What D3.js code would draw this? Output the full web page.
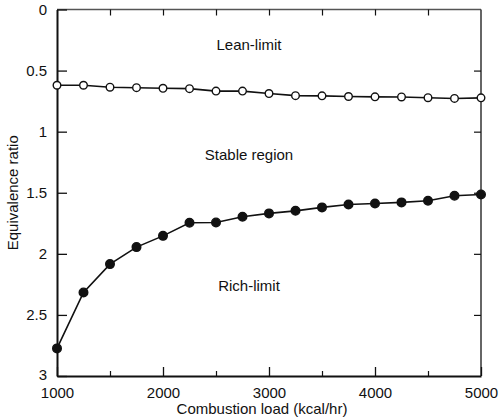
<!DOCTYPE html>
<html>
<head>
<meta charset="utf-8">
<script src="https://cdn.jsdelivr.net/npm/d3@7"></script>
<style>
  html, body { margin: 0; padding: 0; background: #fff; }
  svg { display: block; font-family: Arial, "Liberation Sans", sans-serif; }
</style>
</head>
<body>
<svg id="chart" width="499" height="420"></svg>
<script>
// Combustion load (kcal/hr) at each measured operating point
const loads = [1000, 1250, 1500, 1750, 2000, 2250, 2500, 2750, 3000,
               3250, 3500, 3750, 4000, 4250, 4500, 4750, 5000];
// Lean flammability limit (equivalence ratio)
const leanLimit = [0.62, 0.62, 0.636, 0.64, 0.645, 0.648, 0.668, 0.668, 0.688,
                   0.705, 0.707, 0.712, 0.715, 0.716, 0.722, 0.728, 0.723];
// Rich flammability limit (equivalence ratio)
const richLimit = [2.774, 2.316, 2.084, 1.945, 1.853, 1.746, 1.743, 1.697, 1.669,
                   1.648, 1.62, 1.596, 1.588, 1.579, 1.566, 1.525, 1.514];
const xTicks = [1000, 2000, 3000, 4000, 5000];
const xMinorTicks = [1500, 2500, 3500, 4500];
const yTicks = [0, 0.5, 1, 1.5, 2, 2.5, 3];
const regionLabels = [
  { text: "Lean-limit", x: 3000, y: 0.3 },
  { text: "Stable region", x: 3000, y: 1.2 },
  { text: "Rich-limit", x: 3000, y: 2.27 }
];

const svg = d3.select("#chart");
const m = { left: 57, right: 481, top: 9.5, bottom: 376 };

const x = d3.scaleLinear().domain([1000, 5000]).range([m.left, m.right]);
const y = d3.scaleLinear().domain([0, 3]).range([m.top, m.bottom]);

const ink = "#111";

// Frame: top and right edges drawn lighter than the axes
svg.append("line").attr("x1", m.left).attr("x2", m.right).attr("y1", m.top).attr("y2", m.top)
  .attr("stroke", "#555").attr("stroke-width", 1.3);
svg.append("line").attr("x1", m.right).attr("x2", m.right).attr("y1", m.top).attr("y2", m.bottom)
  .attr("stroke", "#333").attr("stroke-width", 1.5);

// Bottom axis: inward major ticks with labels, shorter minor ticks
const xAxis = svg.append("g").attr("transform", `translate(0,${m.bottom})`)
  .call(d3.axisBottom(x).tickValues(xTicks).tickFormat(d3.format("d"))
    .tickSizeInner(-9).tickSizeOuter(0).tickPadding(10));
xAxis.select(".domain").attr("stroke", ink).attr("stroke-width", 2);
xAxis.selectAll(".tick line").attr("stroke", ink).attr("stroke-width", 1.3);
xAxis.selectAll(".tick text").attr("font-size", 15).attr("fill", ink)
  .attr("y", 17).attr("dy", "0.36em");
svg.append("g").attr("transform", `translate(0,${m.bottom})`)
  .call(d3.axisBottom(x).tickValues(xMinorTicks).tickFormat("").tickSizeInner(-5).tickSizeOuter(0))
  .call(g => g.select(".domain").remove())
  .selectAll(".tick line").attr("stroke", ink).attr("stroke-width", 1.2);

// Top edge ticks
svg.append("g").attr("transform", `translate(0,${m.top})`)
  .call(d3.axisTop(x).tickValues(xMinorTicks.concat(xTicks.slice(1, -1))).tickFormat("")
    .tickSizeInner(-6).tickSizeOuter(0))
  .call(g => g.select(".domain").remove())
  .selectAll(".tick line").attr("stroke", ink).attr("stroke-width", 1.2);

// Left axis (equivalence ratio increases downward)
const yAxis = svg.append("g").attr("transform", `translate(${m.left},0)`)
  .call(d3.axisLeft(y).tickValues(yTicks).tickFormat(d3.format("~g"))
    .tickSizeInner(-10).tickSizeOuter(0).tickPadding(10));
yAxis.select(".domain").attr("stroke", ink).attr("stroke-width", 2);
yAxis.selectAll(".tick line").attr("stroke", ink).attr("stroke-width", 1.3);
yAxis.selectAll(".tick text").attr("font-size", 15).attr("fill", ink);
// The bottom-most label sits a touch higher so it clears the x labels
yAxis.selectAll(".tick text").filter(d => d === 3).attr("dy", "0.2em");

// Right edge ticks
svg.append("g").attr("transform", `translate(${m.right},0)`)
  .call(d3.axisRight(y).tickValues(yTicks.slice(1, -1)).tickFormat("")
    .tickSizeInner(-7).tickSizeOuter(0))
  .call(g => g.select(".domain").remove())
  .selectAll(".tick line").attr("stroke", ink).attr("stroke-width", 1.2);

// Axis titles
svg.append("text").attr("x", (m.left + m.right) / 2 - 7).attr("y", 410)
  .attr("text-anchor", "middle").attr("dominant-baseline", "middle")
  .attr("font-size", 15).attr("fill", ink).text("Combustion load (kcal/hr)");
svg.append("text")
  .attr("transform", `translate(14,${(m.top + m.bottom) / 2}) rotate(-90)`)
  .attr("text-anchor", "middle").attr("dominant-baseline", "middle")
  .attr("font-size", 15).attr("fill", ink).text("Equivalence ratio");

// Limit curves
const line = d3.line().x((d, i) => x(loads[i])).y(d => y(d));
const series = [
  { values: leanLimit, fill: "#fff", r: 3.8 },
  { values: richLimit, fill: ink, r: 4.3 }
];
series.forEach(s => {
  svg.append("path").datum(s.values).attr("d", line)
    .attr("fill", "none").attr("stroke", ink).attr("stroke-width", 1.6);
  svg.append("g").selectAll("circle").data(s.values).join("circle")
    .attr("cx", (d, i) => x(loads[i])).attr("cy", d => y(d)).attr("r", s.r)
    .attr("fill", s.fill).attr("stroke", ink).attr("stroke-width", 1.4);
});

// Region annotations
svg.append("g").selectAll("text").data(regionLabels).join("text")
  .attr("x", d => x(d.x) - 20).attr("y", d => y(d.y))
  .attr("text-anchor", "middle").attr("dominant-baseline", "middle")
  .attr("font-size", 15).attr("fill", ink).text(d => d.text);
</script>
</body>
</html>
